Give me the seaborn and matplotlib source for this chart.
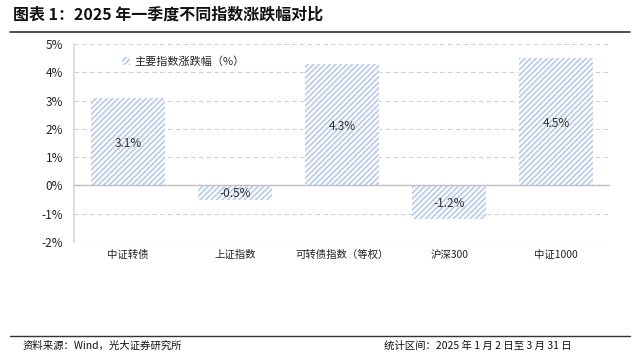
import matplotlib
matplotlib.use('Agg')
import matplotlib.pyplot as plt
import seaborn as sns
import pandas as pd
from matplotlib.ticker import FuncFormatter

# Data
categories = ['中证转债', '上证指数', '可转债指数（等权）', '沪深300', '中证1000']
changes = [3.1, -0.5, 4.3, -1.2, 4.5]
series_name = '主要指数涨跌幅（%）'

df = pd.DataFrame({'index': categories, 'change': changes})

sns.set_theme(style='white')
plt.rcParams['font.family'] = ['Noto Sans CJK SC', 'DejaVu Sans']
plt.rcParams['hatch.linewidth'] = 1.3
plt.rcParams['axes.unicode_minus'] = False

hatch_color = '#bccdea'

fig = plt.figure(figsize=(6.4, 3.58), dpi=100)
ax = fig.add_axes([0.116, 0.324, 0.837, 0.553])

sns.barplot(data=df, x='index', y='change', ax=ax, width=0.69,
            color='white', edgecolor=hatch_color, linewidth=0,
            hatch='//////', label=series_name)

for i, v in enumerate(changes):
    ax.text(i, v / 2 - 0.05, f'{v:.1f}%', ha='center', va='center',
            fontsize=8.5, color='#333333')

ax.set_ylim(-2, 5)
ax.set_yticks(range(-2, 6))
ax.yaxis.set_major_formatter(FuncFormatter(lambda v, p: f'{v:.0f}%'))
ax.set_xlabel('')
ax.set_ylabel('')
ax.tick_params(axis='y', labelsize=8.5, colors='#222222', length=0, pad=8)
ax.tick_params(axis='x', labelsize=7.5, colors='#222222', length=0, pad=6)

ax.grid(axis='y', color='#d0d0d0', linestyle=(0, (4, 3)), linewidth=0.8)
ax.set_axisbelow(True)
ax.axhline(0, color='#c0c0c0', linewidth=1.0, zorder=3)
for s in ['top', 'right', 'bottom']:
    ax.spines[s].set_visible(False)
ax.spines['left'].set_color('#d9d9d9')

leg = ax.legend(loc='upper left', bbox_to_anchor=(0.07, 0.99), frameon=False,
                fontsize=8, handlelength=0.7, handleheight=0.7, handletextpad=0.4)

# title and frame lines
fig.text(0.02, 0.958, '图表 1：2025 年一季度不同指数涨跌幅对比', fontsize=11.5,
         fontweight='bold', color='#111111', va='center')
fig.add_artist(plt.Line2D([0.016, 0.984], [0.912, 0.912], color='#333333', linewidth=1.2))
fig.add_artist(plt.Line2D([0.016, 0.984], [0.062, 0.062], color='#333333', linewidth=1.0))
fig.text(0.035, 0.035, '资料来源：Wind，光大证券研究所', fontsize=7.5, color='#111111', va='center')
fig.text(0.6, 0.035, '统计区间：2025 年 1 月 2 日至 3 月 31 日', fontsize=7.5, color='#111111', va='center')

fig.savefig('out.png', dpi=100)
